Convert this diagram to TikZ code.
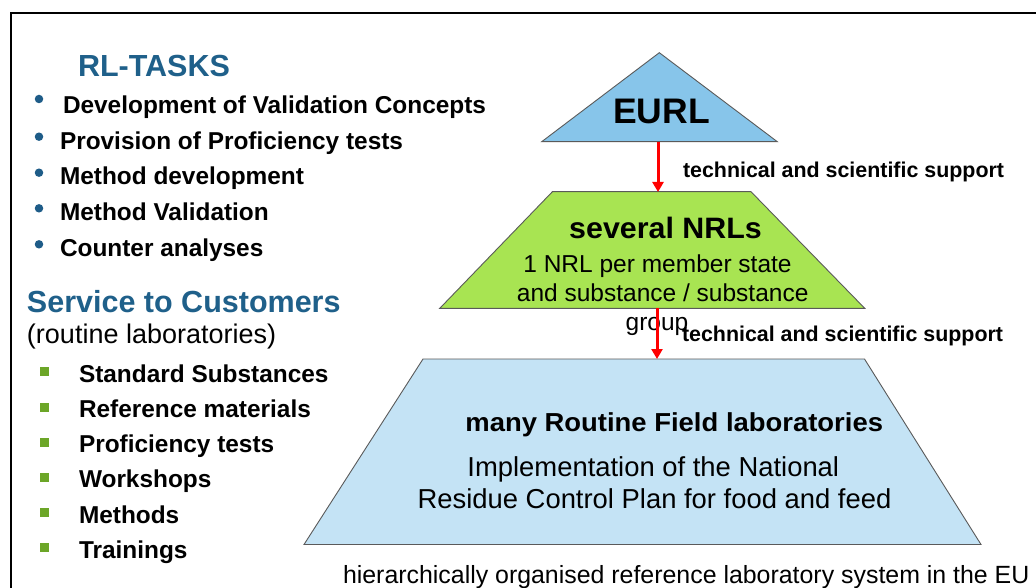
\documentclass[tikz,border=0pt]{standalone}
\usepackage{fontspec}
\setmainfont{Liberation Sans}
\usetikzlibrary{arrows.meta}
\definecolor{headblue}{RGB}{31,96,138}
\definecolor{dotblue}{RGB}{30,92,136}
\definecolor{sqgreen}{RGB}{108,166,40}
\definecolor{eurlfill}{RGB}{135,197,234}
\definecolor{nrlfill}{RGB}{168,228,82}
\definecolor{rflfill}{RGB}{196,227,245}
\definecolor{edgegray}{RGB}{90,90,90}
\newcommand{\fsz}[1]{\fontsize{#1}{#1}\selectfont}
\tikzset{
  txt/.style={inner sep=0pt, outer sep=0pt},
  heading/.style={txt, anchor=base west, text=headblue, font=\bfseries\fsz{30.5}},
  item/.style={txt, anchor=base west, font=\bfseries\fsz{24.4}},
  dotb/.style={circle, fill=dotblue, minimum size=8.5pt, inner sep=0pt},
  sqb/.style={rectangle, fill=sqgreen, minimum size=9pt, inner sep=0pt},
  tier/.style={draw=edgegray, line width=0.9pt},
  supp/.style={-{Triangle[width=11pt,length=10pt]}, draw=red, line width=3pt},
  lbl/.style={txt, anchor=base west, font=\bfseries\fsz{21.4}},
  rtxt/.style={txt, anchor=base, font=\fsz{24.5}},
  frame/.style={line width=2.5pt, draw=black},
}
\begin{document}
\begin{tikzpicture}[x=1pt, y=-1pt]
\useasboundingbox (0,0) rectangle (1036,588);
\fill[white] (0,0) rectangle (1036,588);
% frame
\draw[frame] (11,600) -- (11,13) -- (1050,13);

% left column
\node[heading] (rltasks) at (78,77) {RL-TASKS};
\node[dotb] (b1) at (39,99) {};
\node[dotb] (b2) at (39,136.7) {};
\node[dotb] (b3) at (39,172.7) {};
\node[dotb] (b4) at (39,208.3) {};
\node[dotb] (b5) at (39,244.3) {};
\node[item] (t1) at (63,113.3) {Development of Validation Concepts};
\node[item] (t2) at (60,150) {Provision of Proficiency tests};
\node[item] (t3) at (60,185) {Method development};
\node[item] (t4) at (60,220.7) {Method Validation};
\node[item] (t5) at (60,256.7) {Counter analyses};

\node[heading] (service) at (27,312) {Service to Customers};
\node[txt, anchor=base west, font=\fsz{27}] (routine) at (27,343) {(routine laboratories)};
\node[sqb] (s1) at (44,371.5) {};
\node[sqb] (s2) at (44,407) {};
\node[sqb] (s3) at (44,442) {};
\node[sqb] (s4) at (44,477) {};
\node[sqb] (s5) at (44,512) {};
\node[sqb] (s6) at (44,547) {};
\node[item] (u1) at (79,382.3) {Standard Substances};
\node[item] (u2) at (79,417.5) {Reference materials};
\node[item] (u3) at (79,452.7) {Proficiency tests};
\node[item] (u4) at (79,487.9) {Workshops};
\node[item] (u5) at (79,523.1) {Methods};
\node[item] (u6) at (79,558.3) {Trainings};

% pyramid tiers
\filldraw[tier, fill=eurlfill] (659.3,52.7) -- (777.3,141.7) -- (541.7,141.7) -- cycle;
\filldraw[tier, fill=nrlfill] (552.4,191.7) -- (751,191.7) -- (864.7,308.3) -- (439.8,308.3) -- cycle;
\filldraw[tier, fill=rflfill] (423,359) -- (864.5,359) -- (981,544.5) -- (304,544.5) -- cycle;
\coordinate (eurlb) at (658,141.7);
\coordinate (nrlt) at (658,192);
\coordinate (nrlb) at (657,308.3);
\coordinate (rflt) at (657,359);

\node[txt, anchor=base, font=\bfseries\fsz{35.5}] (eurl) at (661.6,123.3) {EURL};
\node[txt, anchor=base, font=\bfseries\fsz{29.5}] (nrls) at (665.5,239) {\scalebox{1.03}[1]{several NRLs}};
\node[rtxt] (n1) at (657.5,272.7) {1 NRL per member state};
\node[rtxt] (n2) at (662.7,301) {and substance / substance};
\node[rtxt] (n3) at (657,330.7) {group};

\node[txt, anchor=base, font=\bfseries\fsz{26}] (rfl) at (674.2,431.7) {\scalebox{1.055}[1]{many Routine Field laboratories}};
\node[txt, anchor=base, font=\fsz{27.4}] (impl1) at (653.3,476) {Implementation of the National};
\node[txt, anchor=base, font=\fsz{27.4}] (impl2) at (654.5,508.3) {Residue Control Plan for food and feed};

% connectors
\draw[supp] (eurlb) -- (nrlt);
\draw[supp] (nrlb) -- (rflt);
\node[lbl] (l1) at (683,177.3) {technical and scientific support};
\node[lbl] (l2) at (682,341.7) {technical and scientific support};

\node[txt, anchor=base west, font=\fsz{24.9}] (caption) at (343,583) {hierarchically organised reference laboratory system in the EU};
\end{tikzpicture}
\end{document}
